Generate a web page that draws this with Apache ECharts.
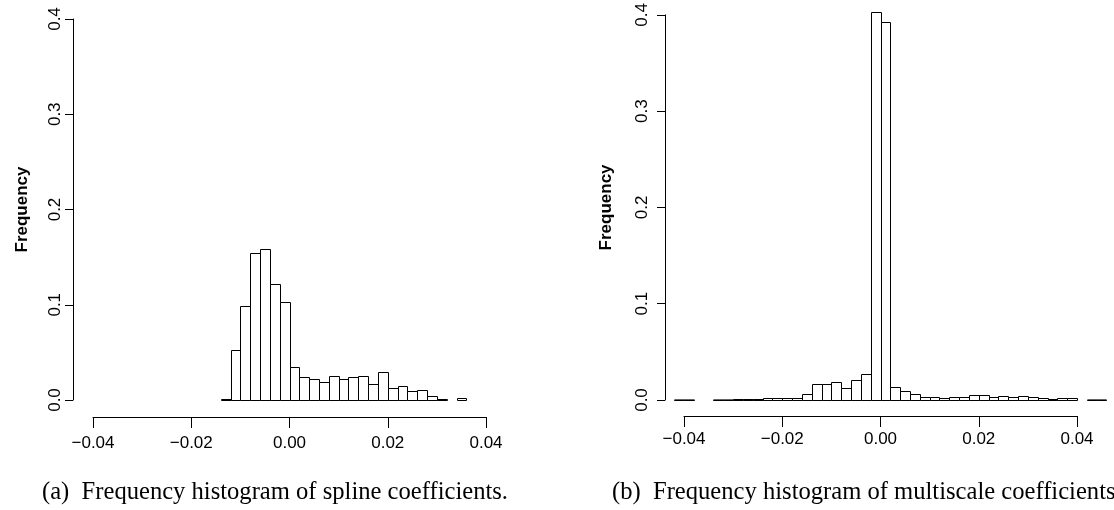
<!DOCTYPE html>
<html>
<head>
<meta charset="utf-8">
<script src="https://cdn.jsdelivr.net/npm/echarts@6/dist/echarts.min.js"></script>
<style>
    html, body { margin: 0; padding: 0; background: #fff; }
    #hist { width: 1114px; height: 510px; }
</style>
</head>
<body>
<div id="hist"></div>
<script>
// histogram bins (width 0.002), first bin's lower edge and the frequency of every bin
var binWidth = 0.002;

var splineFrom = -0.014;
var splineFreq = [0.0008, 0.053, 0.099, 0.154, 0.159, 0.122, 0.103,
    0.035, 0.024, 0.022, 0.019, 0.025, 0.0225, 0.0245, 0.025, 0.0165, 0.029,
    0.013, 0.015, 0.0095, 0.010, 0.004, 0.001, 0, 0.002];

var multiFrom = -0.042;
var multiFreq = [0.0005, 0.0005, 0, 0, 0.0005, 0.0005, 0.0015, 0.0007, 0.0007,
    0.002, 0.002, 0.002, 0.002, 0.006, 0.0166, 0.0166, 0.0185, 0.0124, 0.0207,
    0.0266, 0.403, 0.393, 0.0135, 0.0097, 0.0059, 0.0028, 0.003, 0.002, 0.0034,
    0.0034, 0.0052, 0.0048, 0.003, 0.0038, 0.0028, 0.0041, 0.0028, 0.0017,
    0.001, 0.002, 0.002, 0, 0.0005, 0.0005];

// axis ticks
var xTicks = [-0.04, -0.02, 0.00, 0.02, 0.04];
var yTicks = [0.0, 0.1, 0.2, 0.3, 0.4];

var captionA = '(a)  Frequency histogram of spline coefficients.';
var captionB = '(b)  Frequency histogram of multiscale coefficients.';

(function(echarts) {
    var chart = echarts.init(document.getElementById('hist'), null, { renderer: 'canvas' });

    // [lower edge, upper edge, frequency]
    function toBins(from, freq) {
        return freq.map(function(f, i) {
            return [from + i * binWidth, from + (i + 1) * binWidth, f];
        });
    }

    // one open rectangle per bin, placed through the axes' scales
    function renderBin(params, api) {
        var f = api.value(2);
        if (!f) {
            return null;
        }
        var p0 = api.coord([api.value(0), 0]);
        var p1 = api.coord([api.value(1), f]);
        var x0 = Math.round(p0[0]) + 0.5;
        var x1 = Math.round(p1[0]) + 0.5;
        var yb = Math.round(p0[1]) + 0.5;
        var yt = Math.min(Math.round(p1[1]) + 0.5, yb - 0.6);
        return {
            type: 'rect',
            shape: { x: x0, y: yt, width: x1 - x0, height: yb - yt },
            style: { fill: '#fff', stroke: '#000', lineWidth: 1 }
        };
    }

    var font = 'Liberation Sans';

    function xAxisOpt(gridIndex, offset, margin) {
        return {
            type: 'value',
            gridIndex: gridIndex,
            min: xTicks[0],
            max: xTicks[xTicks.length - 1],
            interval: 0.02,
            offset: offset,
            splitLine: { show: false },
            axisLine: { onZero: false, lineStyle: { color: '#000', width: 1 } },
            axisTick: { length: 11, lineStyle: { color: '#000' } },
            axisLabel: {
                margin: margin,
                color: '#000',
                fontFamily: font,
                fontSize: 17,
                formatter: function(v) {
                    return v.toFixed(2).replace('-', '\u2212');
                }
            }
        };
    }

    function yAxisOpt(gridIndex, offset, margin, nameGap) {
        return {
            type: 'value',
            gridIndex: gridIndex,
            min: yTicks[0],
            max: yTicks[yTicks.length - 1],
            interval: 0.1,
            offset: offset,
            name: 'Frequency',
            nameLocation: 'middle',
            nameRotate: 90,
            nameGap: nameGap,
            nameTextStyle: { color: '#000', fontFamily: font, fontSize: 17, fontWeight: 'bold' },
            splitLine: { show: false },
            axisLine: { show: true, onZero: false, lineStyle: { color: '#000', width: 1 } },
            axisTick: { show: true, length: 8, lineStyle: { color: '#000' } },
            axisLabel: {
                margin: margin,
                rotate: 90,
                color: '#000',
                fontFamily: font,
                fontSize: 17,
                formatter: function(v) {
                    return v.toFixed(1);
                }
            }
        };
    }

    var captionStyle = { color: '#000', fontFamily: 'Liberation Serif', fontSize: 24.6, fontWeight: 'normal' };

    var option = {
        backgroundColor: '#fff',
        animation: false,
        title: [{
            text: captionA,
            left: 42,
            top: 480,
            padding: 0,
            textStyle: captionStyle
        }, {
            text: captionB,
            left: 612,
            top: 480,
            padding: 0,
            textStyle: captionStyle
        }],
        grid: [
            { left: 93, top: 19, width: 393, height: 381 },
            { left: 684, top: 14, width: 393, height: 386 }
        ],
        xAxis: [xAxisOpt(0, 17, 18), xAxisOpt(1, 16, 15)],
        yAxis: [yAxisOpt(0, 20, 9, 42), yAxisOpt(1, 19, 14, 50)],
        series: [{
            type: 'custom',
            xAxisIndex: 0,
            yAxisIndex: 0,
            clip: false,
            renderItem: renderBin,
            data: toBins(splineFrom, splineFreq)
        }, {
            type: 'custom',
            xAxisIndex: 1,
            yAxisIndex: 1,
            clip: false,
            renderItem: renderBin,
            data: toBins(multiFrom, multiFreq)
        }]
    };

    chart.setOption(option);
}(echarts));
</script>
</body>
</html>
